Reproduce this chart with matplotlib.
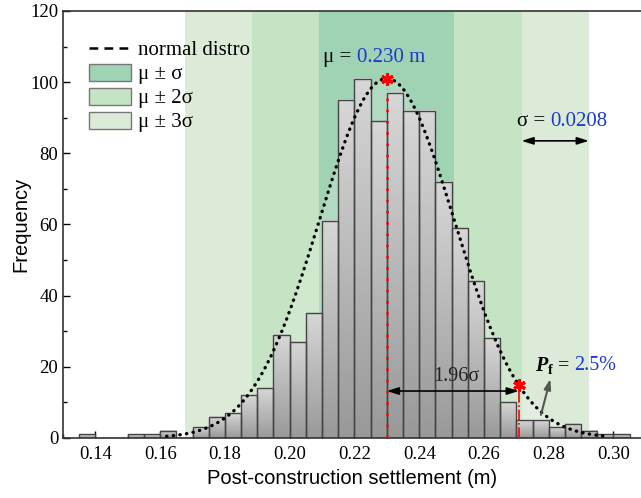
import numpy as np
import matplotlib
matplotlib.use("Agg")
import matplotlib.pyplot as plt
from matplotlib.patches import Patch
from matplotlib.lines import Line2D
from matplotlib.ticker import MultipleLocator

plt.rcParams['font.family'] = ['Liberation Serif', 'DejaVu Serif']
plt.rcParams['mathtext.fontset'] = 'custom'
plt.rcParams['mathtext.rm'] = 'Liberation Serif'
plt.rcParams['mathtext.it'] = 'Liberation Serif:italic'
plt.rcParams['mathtext.bf'] = 'Liberation Serif:bold'
plt.rcParams['mathtext.bfit'] = 'Liberation Serif:bold:italic'

# ---------------- data ----------------
bin_start = 0.135
bin_width = 0.005
counts = [1, 0, 0, 1, 1, 2, 0, 3, 6, 7, 12, 14, 29, 27, 35, 61, 95, 101,
          89, 97, 92, 92, 72, 59, 44, 28, 10, 5, 5, 3, 4, 2, 1, 1]
mu = 0.230
sigma = 0.0208
curve_peak = 101
curve_range = (0.162, 0.298)
z_pf = 1.96
pf_label = "2.5%"
x_ticks = [0.14, 0.16, 0.18, 0.20, 0.22, 0.24, 0.26, 0.28, 0.30]
y_ticks = [0, 20, 40, 60, 80, 100, 120]

band_colors = ['#a0d2b4', '#c5e4c4', '#dcebd8']
blue = '#1a3ad0'

fig = plt.figure(figsize=(6.41, 4.98), dpi=100)
ax = fig.add_axes([0.0983, 0.1205, 0.9017, 0.8575])

# bands
for k, c in zip([3, 2, 1], band_colors[::-1]):
    ax.axvspan(mu - k * sigma, mu + k * sigma, color=c, lw=0, zorder=0)

# normal curve
xc = np.linspace(curve_range[0], curve_range[1], 400)
yc = curve_peak * np.exp(-0.5 * ((xc - mu) / sigma) ** 2)
ax.fill_between(xc, 0, yc, color='white', alpha=0.18, lw=0, zorder=0.5)

# bars with gradient
edges = bin_start + bin_width * np.arange(len(counts) + 1)
grad = np.linspace(0.84, 0.60, 64)[:, None]
for i, h in enumerate(counts):
    if h <= 0:
        continue
    ax.imshow(grad, cmap='gray', vmin=0, vmax=1, extent=(edges[i], edges[i + 1], 0, h),
              aspect='auto', origin='upper', interpolation='bilinear', zorder=2)
ax.bar(edges[:-1], counts, width=bin_width, align='edge', facecolor='none',
       edgecolor='#444444', linewidth=1.0, zorder=2.2)

ax.plot(xc, yc, color='black', lw=2.4, ls=(0, (0.1, 1.9)), dash_capstyle='round', zorder=3)

star = (6, 2, 0)
# mean marker & line
ax.plot([mu + 0.0002, mu + 0.0002], [0, curve_peak - 3], color='red', lw=1.8,
        ls=(0, (1.0, 3.5)), zorder=4)
ax.plot([mu], [curve_peak], marker=star, color='red', ms=9, mew=2.2, mec='red', zorder=5)

# Pf marker & line
x_pf = mu + z_pf * sigma
y_pf = curve_peak * np.exp(-0.5 * z_pf ** 2)
ax.plot([x_pf, x_pf], [0, y_pf], color='red', lw=1.2, ls='-.', zorder=4)
ax.plot([x_pf], [y_pf], marker=star, color='red', ms=9, mew=2.2, mec='red', zorder=5)

# 1.96 sigma arrow
ax.annotate('', xy=(mu, 13.2), xytext=(x_pf, 13.2),
            arrowprops=dict(arrowstyle='<|-|>,head_length=0.7,head_width=0.22', color='black',
                            lw=1.2, shrinkA=0, shrinkB=0), zorder=6)
ax.text(0.2515, 17.2, '1.96σ', ha='center', va='center', fontsize=14.5,
        color='#222222', zorder=6)

# sigma arrow
ax.annotate('', xy=(mu + 2 * sigma, 83.5), xytext=(mu + 3 * sigma, 83.5),
            arrowprops=dict(arrowstyle='<|-|>,head_length=0.7,head_width=0.22', color='black',
                            lw=1.2, shrinkA=0, shrinkB=0), zorder=6)
ax.text(0.2789, 88.8, 'σ =', ha='right', va='center', fontsize=15, zorder=6)
ax.text(0.2806, 88.8, f'{sigma:.4f}', ha='left', va='center', fontsize=15, color=blue, zorder=6)

# mu text
ax.text(0.2189, 107, 'μ =', ha='right', va='center', fontsize=15, zorder=6)
ax.text(0.2207, 107, f'{mu:.3f} m', ha='left', va='center', fontsize=15, color=blue, zorder=6)

# Pf text + arrow
ax.text(0.2866, 20.3, r'$\mathbfit{P}_\mathbf{f}$ =', ha='right', va='center', fontsize=14.5, zorder=6)
ax.text(0.2880, 20.3, pf_label, ha='left', va='center', fontsize=14.5, color=blue, zorder=6)
ax.annotate('', xy=(0.2805, 16.6), xytext=(0.2776, 6.5),
            arrowprops=dict(arrowstyle='-|>,head_length=0.6,head_width=0.2', color='#555555',
                            lw=1.5, shrinkA=0, shrinkB=0), zorder=6)

# axes styling
ax.set_xlim(0.130, 0.3085)
ax.set_ylim(0, 120)
ax.set_xticks(x_ticks)
ax.set_xticklabels([f'{t:.2f}' for t in x_ticks])
ax.set_yticks(y_ticks)
ax.xaxis.set_minor_locator(MultipleLocator(0.01))
ax.yaxis.set_minor_locator(MultipleLocator(10))
ax.tick_params(which='both', direction='in', labelsize=13.5, width=1.0)
ax.tick_params(which='major', length=5)
ax.tick_params(which='minor', length=3)
ax.tick_params(axis='x', pad=6)
ax.spines['right'].set_visible(False)
for s in ['left', 'bottom', 'top']:
    ax.spines[s].set_linewidth(1.2)
    ax.spines[s].set_color('#333333')
ax.set_xlabel('Post-construction settlement (m)', family=['Liberation Sans'], fontsize=14.5, labelpad=4)
ax.set_ylabel('Frequency', family=['Liberation Sans'], fontsize=14.5, labelpad=0)

handles = [Line2D([], [], color='black', ls=(0, (3.5, 2.5)), lw=1.8),
           Patch(facecolor=band_colors[0], edgecolor='#777777'),
           Patch(facecolor=band_colors[1], edgecolor='#777777'),
           Patch(facecolor=band_colors[2], edgecolor='#777777')]
labels = ['normal distro', 'μ ± σ', 'μ ± 2σ', 'μ ± 3σ']
ax.legend(handles, labels, loc='upper left', bbox_to_anchor=(0.02, 0.967), frameon=False,
          fontsize=15, handlelength=2.0, handleheight=0.9, labelspacing=0.15,
          handletextpad=0.35, borderaxespad=0.3)

fig.savefig('out.png', dpi=100)
